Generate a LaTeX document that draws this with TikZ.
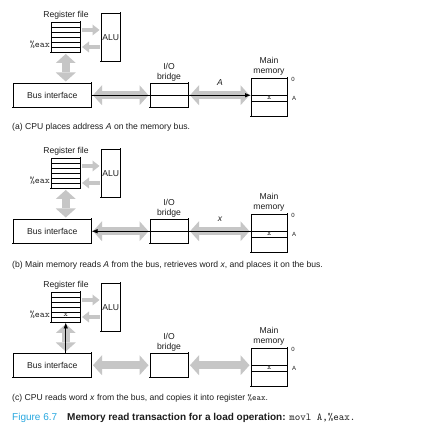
\documentclass[tikz,border=0pt]{standalone}
\usepackage{fontspec}
\setmainfont{Liberation Sans}
\usetikzlibrary{arrows.meta,calc}
\definecolor{arrowgray}{RGB}{198,198,198}
\definecolor{figblue}{RGB}{40,168,224}
\definecolor{inkgray}{RGB}{30,30,30}
\tikzset{
  box/.style={draw=black, line width=0.5pt, inner sep=0pt, anchor=north west,
    font=\fontsize{8.6pt}{10.5pt}\selectfont, text=inkgray},
  shadowline/.style={draw=black, line width=1.1pt, line cap=rect},
  rowline/.style={draw=black, line width=0.5pt},
  lbl/.style={inner sep=0pt, font=\fontsize{8.6pt}{10.5pt}\selectfont, text=inkgray},
  lblit/.style={inner sep=0pt, font=\fontsize{8.6pt}{10.5pt}\selectfont\itshape, text=inkgray},
  ttlbl/.style={inner sep=0pt, font=\fontsize{9.5pt}{10pt}\selectfont\ttfamily, text=inkgray},
  cellx/.style={inner sep=0pt, font=\fontsize{8pt}{9pt}\selectfont\ttfamily, text=inkgray},
  tinylbl/.style={inner sep=0pt, font=\fontsize{6pt}{7pt}\selectfont, text=inkgray},
  caplbl/.style={inner sep=0pt, anchor=west, font=\fontsize{8.6pt}{10pt}\selectfont, text=inkgray},
  fatarrow/.style={draw=arrowgray, line width=8.5pt,
    {Triangle[width=20pt,length=9pt,line width=0pt]}-{Triangle[width=20pt,length=9pt,line width=0pt]}},
  smallarrow/.style={draw=arrowgray, line width=4.5pt,
    -{Triangle[width=11pt,length=7pt,line width=0pt]}},
  busline/.style={draw=black, line width=0.8pt, -{Latex[length=6pt,width=4.5pt]}}
}
\newcommand\boxshadow[1]{\draw[shadowline] (#1.north east) -- (#1.south east) -- (#1.south west);}
\newcommand\memfig[2]{%
\begin{scope}[shift={(0,#2)}]
  \node[lbl] (#1rl) at (66,15) {Register file};
  \node[box, minimum width=29pt, minimum height=30pt] (#1reg) at (51,22) {};
  \foreach \k in {1,...,5}
    \draw[rowline] ([yshift=-5*\k pt]#1reg.north west) -- ([yshift=-5*\k pt]#1reg.north east);
  \boxshadow{#1reg}
  \node[ttlbl, anchor=east] (#1eax) at (50,44.5) {\%eax};
  \node[box, minimum width=19pt, minimum height=48pt] (#1alu) at (101,13) {ALU};
  \boxshadow{#1alu}
  \node[box, minimum width=78pt, minimum height=24pt] (#1bi) at (13,83) {Bus interface};
  \boxshadow{#1bi}
  \node[box, minimum width=38pt, minimum height=24pt] (#1br) at (150,83) {};
  \boxshadow{#1br}
  \node[lbl, align=center] (#1brl) at (169,72.5) {I/O\\bridge};
  \node[box, minimum width=36pt, minimum height=38pt] (#1mem) at (251,78) {};
  \draw[rowline] ([yshift=-17pt]#1mem.north west) -- ([yshift=-17pt]#1mem.north east);
  \draw[rowline] ([yshift=-23pt]#1mem.north west) -- ([yshift=-23pt]#1mem.north east);
  \boxshadow{#1mem}
  \node[lbl, align=center] (#1meml) at (269,66.5) {Main\\memory};
  \node[cellx] (#1mx) at ([yshift=-20pt]#1mem.north) {x};
  \node[tinylbl] (#1mz) at (293,79) {0};
  \node[tinylbl] (#1ma) at (294,98) {A};
  \draw[fatarrow] ($(#1bi.east)+(1.5,0)$) -- ($(#1br.west)+(-1.5,0)$);
  \draw[fatarrow] ($(#1br.east)+(1.5,0)$) -- ($(#1br.east -| #1mem.west)+(-1.5,0)$);
  \draw[fatarrow] ($(#1reg.south)+(0,1.5)$) -- ($(#1reg.south |- #1bi.north)+(0,-1.5)$);
  \draw[smallarrow] ($(#1reg.north east)+(1.5,8)$) -- ($(#1reg.north east -| #1alu.west)+(-1.5,8)$);
  \draw[smallarrow] ($(#1reg.north east -| #1alu.west)+(-1.5,25)$) -- ($(#1reg.north east)+(1.5,25)$);
\end{scope}}
\begin{document}
\begin{tikzpicture}[x=1pt,y=-1pt]
  \useasboundingbox (0,0) rectangle (429,427);
  \fill[white] (0,0) rectangle (429,427);
  % (a)
  \memfig{a}{0}
  \draw[busline] (abi.east) -- (abi.east -| amem.west);
  \node[lblit] (alab) at (220,83) {A};
  \node[caplbl] (acap) at (12,127) {(a) CPU places address \textit{A} on the memory bus.};
  % (b)
  \memfig{b}{136}
  \draw[busline] (bbi.east -| bmem.west) -- (bbi.east);
  \node[lblit] (blab) at (220,219) {x};
  \node[caplbl] (bcap) at (12,265) {(b) Main memory reads \textit{A} from the bus, retrieves word \textit{x}, and places it on the bus.};
  % (c)
  \memfig{c}{270}
  \draw[busline] (creg.south |- cbi.north) -- (creg.south);
  \node[cellx] (crx) at ([yshift=-22.5pt]creg.north) {x};
  \node[caplbl] (ccap) at (12,398) {(c) CPU reads word \textit{x} from the bus, and copies it into register {\ttfamily\%eax}.};
  % figure caption
  \node[inner sep=0pt, anchor=west, text=inkgray, font=\fontsize{10pt}{12pt}\selectfont] (fcap) at (12,418)
    {{\color{figblue}Figure 6.7}\hspace{10pt}\textbf{Memory read transaction for a load operation:} {\fontsize{10.5pt}{12pt}\selectfont\ttfamily movl A,\%eax.}};
\end{tikzpicture}
\end{document}
